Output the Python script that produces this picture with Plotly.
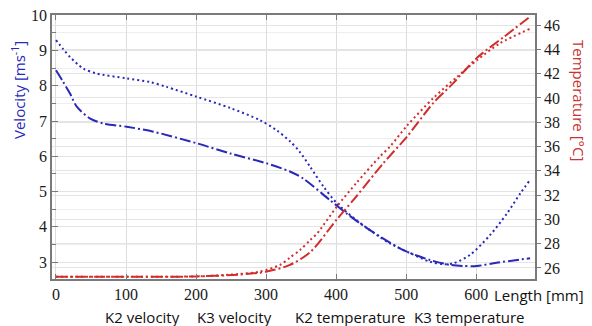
import plotly.graph_objects as go

# ---- data ----
k2_vel_x = [0, 10, 20, 30, 49, 68, 101, 139, 201, 249, 301, 334, 353, 391, 415, 434, 463, 496, 534, 563, 581, 601, 629, 677]
k2_vel_y = [8.44, 8.12, 7.78, 7.40, 7.07, 6.93, 6.84, 6.70, 6.37, 6.08, 5.80, 5.57, 5.37, 4.76, 4.38, 4.10, 3.72, 3.34, 3.06, 2.92, 2.89, 2.89, 2.98, 3.11]

k3_vel_x = [0, 10, 20, 39, 58, 101, 134, 158, 201, 249, 291, 315, 334, 348, 363, 382, 401, 429, 458, 477, 506, 534, 553, 568, 591, 620, 644, 663, 677]
k3_vel_y = [9.30, 9.05, 8.82, 8.49, 8.35, 8.21, 8.11, 7.97, 7.69, 7.37, 7.03, 6.74, 6.43, 6.13, 5.70, 5.14, 4.67, 4.19, 3.77, 3.53, 3.25, 3.01, 2.94, 2.97, 3.20, 3.77, 4.38, 4.95, 5.33]

k2_temp_x = [0, 100, 200, 260, 301, 334, 363, 401, 429, 467, 501, 539, 567, 601, 639, 677]
k2_temp_y = [25.28, 25.28, 25.30, 25.45, 25.70, 26.25, 27.30, 30.00, 31.90, 34.60, 36.80, 39.60, 41.20, 43.30, 45.00, 46.70]

k3_temp_x = [0, 100, 200, 260, 291, 320, 334, 349, 363, 373, 401, 429, 463, 477, 501, 539, 572, 601, 634, 677]
k3_temp_y = [25.28, 25.28, 25.30, 25.50, 25.70, 26.25, 26.85, 27.50, 28.30, 28.85, 31.05, 33.00, 35.20, 36.00, 37.70, 40.00, 41.70, 43.10, 44.50, 45.70]

x_ticks = [0, 100, 200, 300, 400, 500, 600]
vel_ticks = [3, 4, 5, 6, 7, 8, 9, 10]
temp_ticks = [26, 28, 30, 32, 34, 36, 38, 40, 42, 44, 46]

legend_labels = ["K2 velocity", "K3 velocity", "K2 temperature", "K3 temperature"]

BLUE = "rgb(40,40,185)"
RED = "rgb(210,45,45)"
DOT = "2px,3px"
DASHDOT = "11px,3px,2px,3px"

fig = go.Figure()
fig.add_trace(go.Scatter(x=k2_vel_x, y=k2_vel_y, mode="lines", name=legend_labels[0],
                         line=dict(color=BLUE, width=2, dash=DASHDOT, shape="spline", smoothing=0.8)))
fig.add_trace(go.Scatter(x=k3_vel_x, y=k3_vel_y, mode="lines", name=legend_labels[1],
                         line=dict(color=BLUE, width=2, dash=DOT, shape="spline", smoothing=0.8)))
fig.add_trace(go.Scatter(x=k2_temp_x, y=k2_temp_y, mode="lines", name=legend_labels[2], yaxis="y2",
                         line=dict(color=RED, width=2, dash=DASHDOT, shape="spline", smoothing=0.8)))
fig.add_trace(go.Scatter(x=k3_temp_x, y=k3_temp_y, mode="lines", name=legend_labels[3], yaxis="y2",
                         line=dict(color=RED, width=2, dash=DOT, shape="spline", smoothing=0.8)))

# page offset of the figure inside the browser page (body margin)
OFF = 8
W, H = 592 - OFF, 326 - OFF
# desired plot area in page pixels: left 52, right 535, top 15, bottom 279
L, T = 52 - OFF, 15 - OFF
R = OFF + W - 535
B = OFF + H - 279
pw, ph = W - L - R, H - T - B

def px_x(p):
    return (p - 52) / pw

def px_y(p):
    return (279 - p) / ph

sans = "Open Sans, sans-serif"
AXC = "#7a7a7a"
GRID = "#e4e4e4"
SERIF = "Liberation Serif, Times New Roman, serif"
tick_font = dict(family=SERIF, size=16, color="#1a1a1a")

fig.update_layout(
    width=W, height=H,
    font=dict(family=SERIF, size=16, color="#222"),
    margin=dict(l=L, r=R, t=T, b=B, autoexpand=False),
    paper_bgcolor="white", plot_bgcolor="white",
    showlegend=False,
    xaxis=dict(range=[-5.7, 684], tickvals=x_ticks, ticktext=[str(v) for v in x_ticks],
               ticks="inside", ticklen=5, tickcolor=AXC, showline=True, linecolor=AXC, linewidth=1.5,
               mirror="ticks", showgrid=True, gridcolor="#dcdcdc", gridwidth=1, zeroline=False,
               tickfont=tick_font),
    yaxis=dict(range=[2.52, 10.01], tickvals=vel_ticks, ticks="inside", ticklen=6, tickcolor=AXC,
               showline=True, linecolor=AXC, linewidth=1.5, showgrid=True, gridcolor=GRID,
               zeroline=False, tickfont=tick_font, ticklabeloverflow="allow",
               minor=dict(dtick=0.5, tick0=0, ticks="inside", ticklen=4, tickcolor=AXC,
                          showgrid=True, gridcolor="#eeeeee")),
    yaxis2=dict(range=[25.09, 46.83], tickvals=temp_ticks, overlaying="y", side="right",
                ticks="outside", ticklen=4, tickcolor=AXC, showline=True, linecolor=AXC, linewidth=1.5,
                showgrid=True, gridcolor=GRID, zeroline=False, ticklabeloverflow="allow",
                tickfont=tick_font),
)

annotations = [
    dict(text="Velocity [ms<sup>-1</sup>]", xref="paper", yref="paper", x=px_x(19), y=px_y(90),
         xanchor="center", yanchor="middle",
         textangle=-90, showarrow=False, font=dict(family=sans, size=15, color="rgb(40,40,185)")),
    dict(text="Temperature [°C]", xref="paper", yref="paper", x=px_x(579), y=px_y(100),
         xanchor="center", yanchor="middle",
         textangle=90, showarrow=False, font=dict(family=sans, size=15, color="rgb(200,50,50)")),
    dict(text="Length [mm]", xref="paper", yref="paper", x=px_x(539), y=px_y(295),
         xanchor="center", yanchor="middle",
         showarrow=False, font=dict(family=sans, size=15, color="#111")),
]
legend_px = [142, 234, 350, 469]
for lab, p in zip(legend_labels, legend_px):
    annotations.append(dict(text=lab, xref="paper", yref="paper", x=px_x(p), y=px_y(317),
                            xanchor="center", yanchor="middle",
                            showarrow=False, font=dict(family=sans, size=15, color="#111")))
fig.update_layout(annotations=annotations)

fig.write_html("out.html")
